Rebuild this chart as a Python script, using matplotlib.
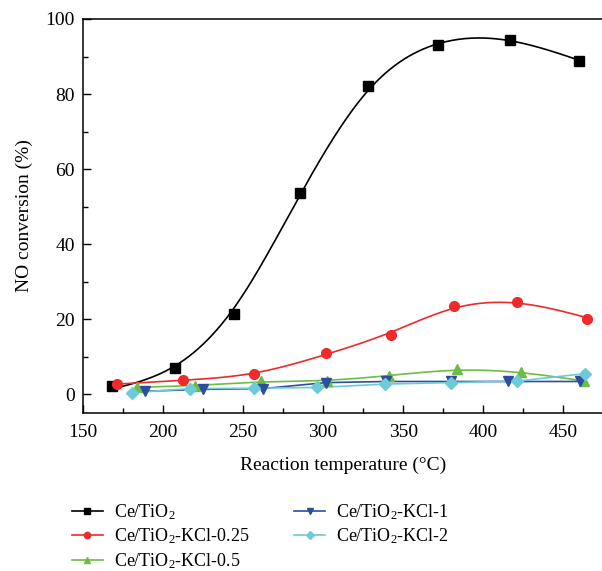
import numpy as np
import matplotlib
matplotlib.use("Agg")
import matplotlib.pyplot as plt
from matplotlib.ticker import MultipleLocator

plt.rcParams['font.family'] = ['Liberation Serif', 'DejaVu Serif']
plt.rcParams['mathtext.fontset'] = 'custom'
plt.rcParams['mathtext.rm'] = 'Liberation Serif'
plt.rcParams['mathtext.it'] = 'Liberation Serif:italic'

# Data
x_ce = [168.3, 207.5, 244.4, 285.6, 327.9, 371.6, 416.9, 460.0]
y_ce = [2.2, 7.1, 21.4, 53.6, 82.1, 93.1, 94.3, 88.7]

x_k025 = [171.0, 212.3, 256.9, 301.7, 342.5, 381.5, 421.0, 464.8]
y_k025 = [2.7, 3.9, 5.3, 10.9, 15.8, 23.6, 24.5, 20.1]

x_k05 = [183.9, 220.0, 261.3, 302.3, 341.3, 383.5, 423.5, 463.3]
y_k05 = [1.9, 2.2, 3.5, 3.5, 4.9, 6.6, 5.8, 3.4]

x_k1 = [188.8, 224.8, 262.3, 301.7, 339.4, 380.0, 415.8, 460.6]
y_k1 = [0.8, 1.3, 1.5, 3.1, 3.4, 3.4, 3.4, 3.4]

x_k2 = [180.4, 216.9, 256.9, 296.4, 338.8, 380.0, 421.4, 463.8]
y_k2 = [0.4, 1.5, 1.6, 1.8, 2.7, 3.1, 3.5, 5.5]

labels = ['Ce/TiO$_2$', 'Ce/TiO$_2$-KCl-0.25', 'Ce/TiO$_2$-KCl-0.5',
          'Ce/TiO$_2$-KCl-1', 'Ce/TiO$_2$-KCl-2']
colors = ['#000000', '#ee2a2a', '#6cbd45', '#2d4d9f', '#6ccbd6']
markers = ['s', 'o', '^', 'v', 'D']
msizes = [6.5, 7, 7, 7, 6.5]
series = [(x_ce, y_ce), (x_k025, y_k025), (x_k05, y_k05), (x_k1, y_k1), (x_k2, y_k2)]
smooth = [True, True, True, False, False]


def smoothing_curve(xs, ys, lam=4000.0, n=300):
    """Penalised smoothing spline (integral of f'' squared) on a fine grid."""
    grid = np.linspace(xs.min(), xs.max(), n)
    B = np.zeros((len(xs), n))
    for i, xv in enumerate(xs):
        j = np.searchsorted(grid, xv) - 1
        j = min(max(j, 0), n - 2)
        t = (xv - grid[j]) / (grid[j + 1] - grid[j])
        B[i, j] = 1 - t
        B[i, j + 1] = t
    D = np.diff(np.eye(n), 2, axis=0)
    h = grid[1] - grid[0]
    A = B.T @ B + lam / h**3 * (D.T @ D)
    f = np.linalg.solve(A, B.T @ ys)
    return grid, f


fig = plt.figure(figsize=(6.02, 5.71), dpi=100)
ax = fig.add_axes([83/602, 1-413/571, 1-83/602 + 0.002, (413-19)/571])

for (xs, ys), c, m, ms, lab, sm in zip(series, colors, markers, msizes, labels, smooth):
    xs = np.asarray(xs); ys = np.asarray(ys)
    if sm:
        xf, yf = smoothing_curve(xs, ys)
        ax.plot(xf, yf, color=c, lw=1.2, zorder=2)
    else:
        ax.plot(xs, ys, color=c, lw=1.2, zorder=2)
    ax.plot(xs, ys, ls='none', marker=m, ms=ms, color=c, mec=c, zorder=3)
    ax.plot([], [], color=c, lw=1.2, marker=m, ms=ms*0.65, label=lab)

ax.set_xlim(150, 475)
ax.set_ylim(-5, 100)
ax.xaxis.set_major_locator(MultipleLocator(50))
ax.xaxis.set_minor_locator(MultipleLocator(25))
ax.yaxis.set_major_locator(MultipleLocator(20))
ax.yaxis.set_minor_locator(MultipleLocator(10))
ax.tick_params(which='both', direction='in', top=False, right=False, labelsize=14)
ax.tick_params(which='major', length=6, width=1)
ax.tick_params(which='minor', length=3.5, width=1)
ax.tick_params(axis='x', which='both', pad=8)
ax.tick_params(axis='y', which='both', pad=6)
ax.spines['right'].set_visible(False)
for s in ['left', 'bottom', 'top']:
    ax.spines[s].set_linewidth(1.1)

ax.set_xlabel('Reaction temperature (\u00b0C)', fontsize=14, labelpad=11)
ax.set_ylabel('NO conversion (%)', fontsize=14, labelpad=9)

handles, labs = ax.get_legend_handles_labels()
fig.legend(handles, labs, ncol=2, loc='upper left',
           bbox_to_anchor=(72/602, 1-502/571), frameon=False, fontsize=13,
           handlelength=1.7, handletextpad=0.6, columnspacing=2.5,
           labelspacing=0.28, borderpad=0, borderaxespad=0)

fig.savefig('out.png', dpi=100)
